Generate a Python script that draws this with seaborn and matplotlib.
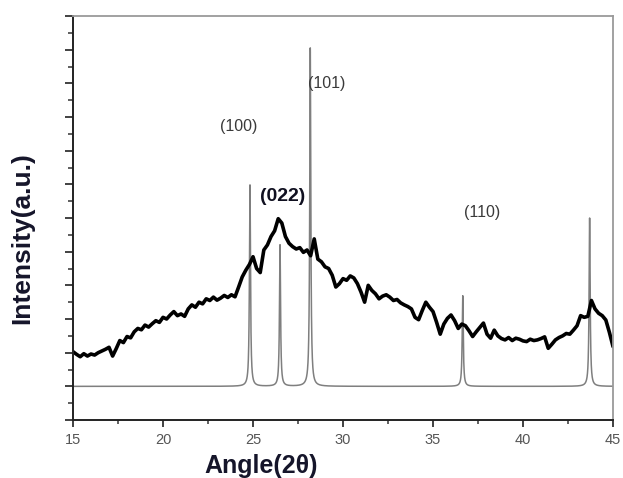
import numpy as np
import pandas as pd
import matplotlib
matplotlib.use("Agg")
import matplotlib.pyplot as plt
from matplotlib.ticker import MultipleLocator
import seaborn as sns

# Measured XRD pattern: 2-theta from 15 to 45 deg in 0.2 deg steps
two_theta = np.round(np.arange(15.0, 45.0001, 0.2), 2)
intensity = [
    2.03, 1.95, 1.88, 1.97, 1.90, 1.96, 1.93, 2.00, 2.05, 2.10,
    2.16, 1.90, 2.12, 2.36, 2.30, 2.48, 2.44, 2.62, 2.72, 2.68,
    2.82, 2.76, 2.86, 2.95, 2.90, 3.05, 3.00, 3.12, 3.22, 3.10,
    3.15, 3.08, 3.30, 3.42, 3.35, 3.50, 3.45, 3.60, 3.55, 3.65,
    3.56, 3.62, 3.70, 3.64, 3.72, 3.66, 3.95, 4.25, 4.45, 4.62,
    4.85, 4.50, 4.38, 5.05, 5.20, 5.45, 5.62, 5.98, 5.85, 5.45,
    5.25, 5.15, 5.08, 5.12, 4.98, 5.05, 4.88, 5.38, 4.78, 4.70,
    4.55, 4.50, 4.30, 3.95, 4.05, 4.20, 4.15, 4.28, 4.22, 4.05,
    3.80, 3.50, 4.00, 3.85, 3.75, 3.60, 3.68, 3.72, 3.65, 3.55,
    3.58, 3.48, 3.42, 3.37, 3.30, 3.05, 2.98, 3.25, 3.50, 3.35,
    3.22, 2.90, 2.55, 2.85, 3.02, 3.12, 2.95, 2.72, 2.85, 2.80,
    2.65, 2.48, 2.62, 2.75, 2.88, 2.55, 2.43, 2.67, 2.50, 2.42,
    2.38, 2.45, 2.36, 2.43, 2.40, 2.35, 2.33, 2.40, 2.36, 2.38,
    2.42, 2.47, 2.13, 2.25, 2.38, 2.45, 2.50, 2.57, 2.55, 2.67,
    2.80, 3.10, 3.05, 3.08, 3.55, 3.30, 3.17, 3.10, 2.97, 2.60,
    2.18,
]

# Reference pattern: peak positions and peak tops, on a flat baseline
ref_positions = [24.83, 26.50, 28.18, 36.65, 43.70]
ref_tops = [7.0, 5.2, 11.05, 3.7, 6.0]
ref_baseline = 1.0
ref_hwhm = 0.035

# Reflection labels
hkl_labels = ["(100)", "(101)", "(022)", "(110)"]
hkl_x = [24.22, 29.09, 26.67, 37.72]
hkl_y = [8.73, 10.01, 6.65, 6.15]
hkl_bold = [False, False, True, False]

x_ticks = [15, 20, 25, 30, 35, 40, 45]

# Reference profile built from the peak list (Lorentzian lines)
grid = np.arange(15.0, 45.0001, 0.004)
profile = np.full_like(grid, ref_baseline)
for pos, top in zip(ref_positions, ref_tops):
    profile += (top - ref_baseline) * ref_hwhm**2 / (ref_hwhm**2 + (grid - pos) ** 2)

meas = pd.DataFrame({"two_theta": two_theta, "intensity": intensity})
ref = pd.DataFrame({"two_theta": grid, "intensity": profile})

sns.set_style("ticks")
plt.rcParams["font.family"] = ["Liberation Sans", "DejaVu Sans"]

fig = plt.figure(figsize=(6.23, 4.78), dpi=100)
ax = fig.add_axes([0.1172, 0.1213, 0.8668, 0.8452])

sns.lineplot(data=ref, x="two_theta", y="intensity", ax=ax,
             color="#7f7f7f", linewidth=1.1, estimator=None, sort=False)
sns.lineplot(data=meas, x="two_theta", y="intensity", ax=ax,
             color="black", linewidth=2.6, estimator=None, sort=False)

for lab, lx, ly, b in zip(hkl_labels, hkl_x, hkl_y, hkl_bold):
    if b:
        ax.text(lx, ly, lab, ha="center", va="center", fontsize=14,
                fontweight="bold", color="#101020")
    else:
        ax.text(lx, ly, lab, ha="center", va="center", fontsize=11.5,
                color="#3a3a3a")

ax.set_xlim(15, 45)
ax.set_ylim(0, 12)
ax.set_xticks(x_ticks)
ax.xaxis.set_minor_locator(MultipleLocator(2.5))
ax.yaxis.set_major_locator(MultipleLocator(1))
ax.yaxis.set_minor_locator(MultipleLocator(0.5))
ax.set_yticklabels([])
ax.tick_params(axis="x", which="major", direction="out", length=5, width=1.3,
               labelsize=10.5, labelcolor="#555555", color="#333333", pad=4)
ax.tick_params(axis="x", which="minor", direction="out", length=3, width=1.1,
               color="#333333")
ax.tick_params(axis="y", which="major", direction="out", length=6, width=1.3,
               color="#333333")
ax.tick_params(axis="y", which="minor", direction="out", length=3.5, width=1.1,
               color="#333333")

for side in ["left", "bottom"]:
    ax.spines[side].set_color("#222222")
    ax.spines[side].set_linewidth(1.4)
for side in ["top", "right"]:
    ax.spines[side].set_visible(True)
    ax.spines[side].set_color("#9a9a9a")
    ax.spines[side].set_linewidth(1.3)

ax.set_xlabel("Angle(2θ)", fontsize=18, fontweight="bold", color="#15152a")
ax.set_ylabel("Intensity(a.u.)", fontsize=19, fontweight="bold", color="#15152a")
ax.xaxis.set_label_coords(0.348, -0.114)
ax.yaxis.set_label_coords(-0.094, 0.45)
ax.xaxis.label.set_va("center")
ax.yaxis.label.set_va("center")

fig.savefig("out.png", dpi=100)
